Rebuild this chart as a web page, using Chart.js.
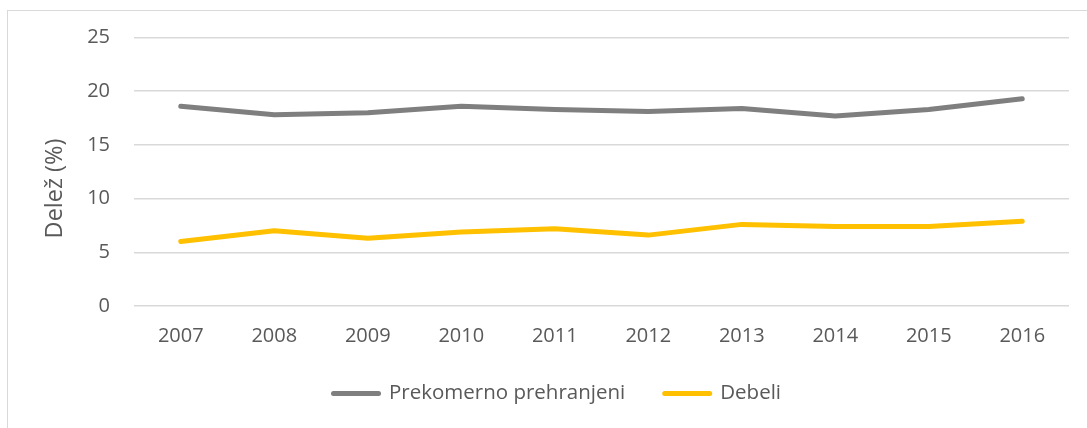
<!DOCTYPE html>
<html>
<head>
<meta charset="utf-8">
<script src="https://cdn.jsdelivr.net/npm/chart.js@4/dist/chart.umd.min.js"></script>
<style>
html,body{margin:0;padding:0;background:#fff;}
#wrap{width:1087px;height:428px;position:relative;}
</style>
</head>
<body>
<div id="wrap"><canvas id="c" width="1087" height="428"></canvas></div>
<script>
const categories = ["2007","2008","2009","2010","2011","2012","2013","2014","2015","2016"];
const prekomerno = [18.6, 17.8, 18.0, 18.6, 18.3, 18.1, 18.4, 17.7, 18.3, 19.3];
const debeli = [6.0, 7.0, 6.3, 6.9, 7.2, 6.6, 7.6, 7.4, 7.4, 7.9];
const seriesNames = ["Prekomerno prehranjeni", "Debeli"];
const yTitle = "Delež (%)";

const FONT = "'Open Sans', 'Liberation Sans', sans-serif";
const TXT = "#595959";

const borderPlugin = {
  id: 'outerBorder',
  beforeDraw(chart) {
    const ctx = chart.ctx;
    ctx.save();
    ctx.fillStyle = '#fff';
    ctx.fillRect(0, 0, chart.width, chart.height);
    ctx.strokeStyle = '#d9d9d9';
    ctx.lineWidth = 1;
    ctx.strokeRect(7.5, 10.5, 1200, 600);
    ctx.restore();
  }
};

// y-axis title and legend drawn as real text in the positions used by the original
const annotPlugin = {
  id: 'annot',
  afterDraw(chart) {
    const ctx = chart.ctx;
    ctx.save();
    // y title
    ctx.fillStyle = TXT;
    ctx.font = "23.5px " + FONT;
    ctx.textAlign = 'center';
    ctx.textBaseline = 'middle';
    ctx.translate(55, 188.5);
    ctx.rotate(-Math.PI / 2);
    ctx.fillText(yTitle, 0, 0);
    ctx.restore();

    // legend
    ctx.save();
    ctx.font = "20.5px " + FONT;
    ctx.textBaseline = 'middle';
    ctx.textAlign = 'left';
    const lineLen = 50, gapText = 8, gapItem = 37;
    const items = chart.data.datasets.map(ds => ({ label: ds.label, color: ds.borderColor, w: ctx.measureText(ds.label).width }));
    let total = 0;
    items.forEach((it, i) => { total += lineLen + gapText + it.w + (i < items.length - 1 ? gapItem : 0); });
    let x = 556 - total / 2;
    const y = 393.5;
    items.forEach(it => {
      ctx.strokeStyle = it.color;
      ctx.lineWidth = 5;
      ctx.lineCap = 'round';
      ctx.beginPath();
      ctx.moveTo(x + 2.5, y);
      ctx.lineTo(x + lineLen - 2.5, y);
      ctx.stroke();
      x += lineLen + gapText;
      ctx.fillStyle = TXT;
      ctx.fillText(it.label, x, y);
      x += it.w + gapItem;
    });
    ctx.restore();
  }
};

new Chart(document.getElementById('c'), {
  type: 'line',
  data: {
    labels: categories,
    datasets: [
      { label: seriesNames[0], data: prekomerno, borderColor: '#7f7f7f', backgroundColor: '#7f7f7f',
        borderWidth: 5, pointRadius: 0, tension: 0, borderCapStyle: 'round', borderJoinStyle: 'round' },
      { label: seriesNames[1], data: debeli, borderColor: '#ffc000', backgroundColor: '#ffc000',
        borderWidth: 5, pointRadius: 0, tension: 0, borderCapStyle: 'round', borderJoinStyle: 'round' }
    ]
  },
  options: {
    responsive: false,
    animation: false,
    devicePixelRatio: 1,
    layout: { padding: { top: 37.5, left: 36, right: 18, bottom: 62 } },
    plugins: {
      tooltip: { enabled: false },
      legend: { display: false }
    },
    scales: {
      x: {
        offset: true,
        grid: { display: false, drawTicks: false },
        border: { display: false },
        ticks: { color: TXT, font: { family: FONT, size: 20 }, padding: 18 }
      },
      y: {
        min: 0, max: 25,
        afterFit(scale) { scale.width = 98; },
        ticks: { stepSize: 5, color: TXT, font: { family: FONT, size: 20 }, padding: 24 },
        grid: { color: '#d9d9d9', lineWidth: 1.5, drawTicks: false },
        border: { display: false },
        title: { display: false }
      }
    }
  },
  plugins: [borderPlugin, annotPlugin]
});
</script>
</body>
</html>
